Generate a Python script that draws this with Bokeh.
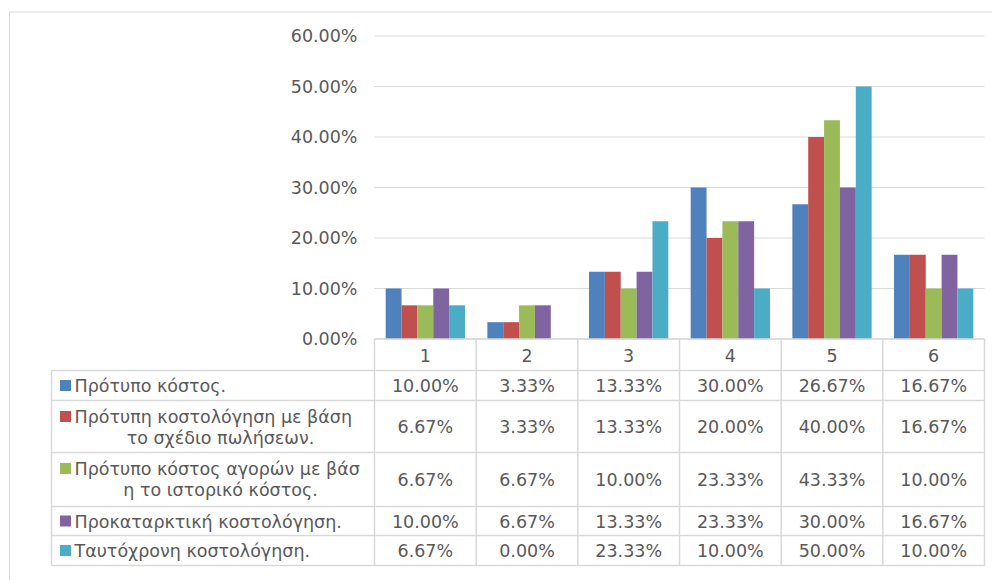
from bokeh.plotting import figure
from bokeh.models import Range1d
from bokeh.core.properties import value
from bokeh.embed import file_html
from bokeh.resources import INLINE

# ---------------- data ----------------
categories = ["1", "2", "3", "4", "5", "6"]
series_names = [
    "Πρότυπο κόστος.",
    "Πρότυπη κοστολόγηση με βάση το σχέδιο πωλήσεων.",
    "Πρότυπο κόστος αγορών με βάση το ιστορικό κόστος.",
    "Προκαταρκτική κοστολόγηση.",
    "Ταυτόχρονη κοστολόγηση.",
]
legend_lines = [
    ["Πρότυπο κόστος."],
    ["Πρότυπη κοστολόγηση με βάση", "το σχέδιο πωλήσεων."],
    ["Πρότυπο κόστος αγορών με βάσ", "η το ιστορικό κόστος."],
    ["Προκαταρκτική κοστολόγηση."],
    [" Ταυτόχρονη κοστολόγηση."],
]
s1 = [10.00, 3.33, 13.33, 30.00, 26.67, 16.67]
s2 = [6.67, 3.33, 13.33, 20.00, 40.00, 16.67]
s3 = [6.67, 6.67, 10.00, 23.33, 43.33, 10.00]
s4 = [10.00, 6.67, 13.33, 23.33, 30.00, 16.67]
s5 = [6.67, 0.00, 23.33, 10.00, 50.00, 10.00]
series_values = [s1, s2, s3, s4, s5]
y_ticks = [0, 10, 20, 30, 40, 50, 60]
colors = ["#4F81BD", "#C0504D", "#9BBB59", "#8064A2", "#4BACC6"]

# ---------------- layout (picture pixels) ----------------
FIG_W, FIG_H = 992, 580
OFF = 0
PLOT_L, PLOT_R = 374.0, 984.0
Y0_PX, Y60_PX = 338.5, 35.5
TABLE_L = 51.0
HEADER_BOTTOM = 370.0
ROW_BOUNDS = [370.0, 400.0, 452.0, 506.0, 535.0, 565.0]

n_cat = len(categories)
kx = (PLOT_R - PLOT_L) / n_cat
x_start = -(PLOT_L - OFF) / kx
x_end = x_start + FIG_W / kx
ky = (Y0_PX - Y60_PX) / 60.0
y_end = (Y0_PX - OFF) / ky
y_start = y_end - FIG_H / ky


def X(px):
    return x_start + (px - OFF) / kx


def Y(py):
    return y_end - (py - OFF) / ky


FONT = value("DejaVu Sans")
FSIZE = "17.5px"
TCOL = "#595959"
GRID = "#d9d9d9"

p = figure(width=FIG_W, height=FIG_H, output_backend="svg", toolbar_location=None,
           x_range=Range1d(x_start, x_end), y_range=Range1d(y_start, y_end),
           x_axis_type=None, y_axis_type=None,
           min_border=0, min_border_left=0, min_border_right=0,
           min_border_top=0, min_border_bottom=0)
p.outline_line_color = None
p.xgrid.visible = False
p.ygrid.visible = False
p.background_fill_color = "white"
p.border_fill_color = "white"

# outer chart border
p.quad(left=[X(9)], right=[X(1020)], top=[Y(11.5)], bottom=[Y(620)],
       fill_color=None, line_color=GRID, line_width=1)

# gridlines
p.segment(x0=[0] * len(y_ticks), x1=[n_cat] * len(y_ticks), y0=y_ticks, y1=y_ticks,
          line_color=GRID, line_width=1)

# y tick labels
p.text(x=[X(357)] * len(y_ticks), y=y_ticks, text=[f"{t:.2f}%" for t in y_ticks],
       text_align="right", text_baseline="middle", text_font=FONT,
       text_font_size=FSIZE, text_color=TCOL)

# bars
group = 0.78
bw = group / len(series_values)
for k, (vals, col) in enumerate(zip(series_values, colors)):
    xs = [i + 0.5 + (k - (len(series_values) - 1) / 2) * bw for i in range(n_cat)]
    p.vbar(x=xs, top=vals, bottom=0, width=bw, fill_color=col, line_color=None)

# ---------------- data table ----------------
hx0, hx1, hy = [0], [n_cat], [0]
for b in ROW_BOUNDS:
    hx0.append(X(TABLE_L)); hx1.append(n_cat); hy.append(Y(b))
p.segment(x0=hx0, x1=hx1, y0=hy, y1=hy, line_color=GRID, line_width=1.5)
vx, vy0, vy1 = [X(TABLE_L)], [Y(ROW_BOUNDS[0])], [Y(ROW_BOUNDS[-1])]
for i in range(n_cat + 1):
    vx.append(i); vy0.append(0); vy1.append(Y(ROW_BOUNDS[-1]))
p.segment(x0=vx, x1=vx, y0=vy0, y1=vy1, line_color=GRID, line_width=1.5)

# header
hdr_y = Y((Y0_PX + HEADER_BOTTOM) / 2 + 0.5)
p.text(x=[i + 0.5 for i in range(n_cat)], y=[hdr_y] * n_cat, text=categories,
       text_align="center", text_baseline="middle", text_font=FONT,
       text_font_size=FSIZE, text_color=TCOL)

# rows
for r, (vals, col, lines) in enumerate(zip(series_values, colors, legend_lines)):
    top, bot = ROW_BOUNDS[r], ROW_BOUNDS[r + 1]
    mid = (top + bot) / 2
    p.text(x=[i + 0.5 for i in range(n_cat)], y=[Y(mid + 0.5)] * n_cat,
           text=[f"{v:.2f}%" for v in vals], text_align="center",
           text_baseline="middle", text_font=FONT, text_font_size=FSIZE,
           text_color=TCOL)
    ly = mid if len(lines) == 1 else top + 16
    p.rect(x=[X(65)], y=[Y(ly)], width=11, height=11, width_units="screen",
           height_units="screen", fill_color=col, line_color=None)
    p.text(x=[X(74)], y=[Y(ly + 0.5)], text=[lines[0]], text_align="left",
           text_baseline="middle", text_font=FONT, text_font_size=FSIZE,
           text_color=TCOL)
    if len(lines) > 1:
        p.text(x=[X(220)], y=[Y(ly + 21.5)], text=[lines[1]], text_align="center",
               text_baseline="middle", text_font=FONT, text_font_size=FSIZE,
               text_color=TCOL)

open("out.html", "w").write(file_html(p, INLINE))
